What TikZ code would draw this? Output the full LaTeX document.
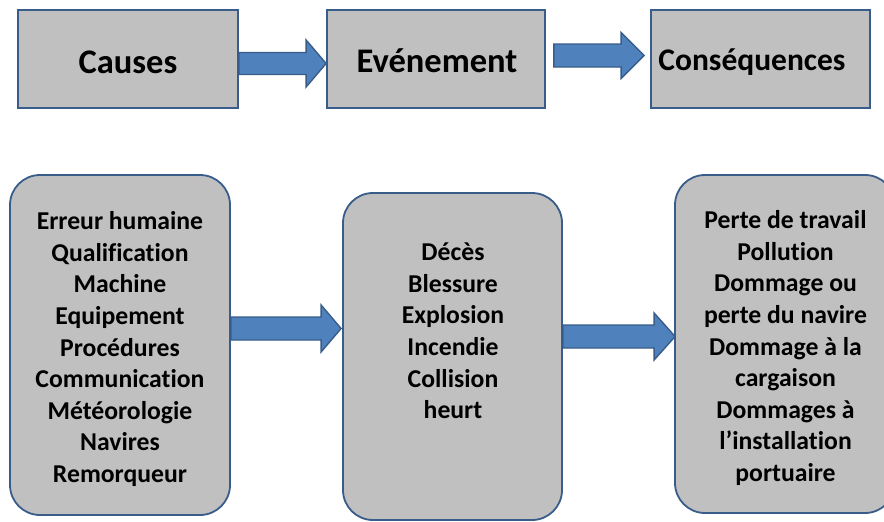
\documentclass[tikz,border=0pt]{standalone}
\usepackage{fontspec}
\setmainfont{Carlito}[Ligatures={NoCommon}]
\usetikzlibrary{calc}
\definecolor{boxgray}{RGB}{192,192,192}
\definecolor{boxline}{RGB}{56,93,138}
\definecolor{arrfill}{RGB}{79,129,189}
\tikzset{
  topbox/.style={draw=boxline, line width=1.8pt, fill=boxgray, rectangle, inner sep=0pt,
     minimum height=98pt},
  toptext/.style={inner sep=0pt, anchor=base, font=\bfseries\fontsize{34.5}{40}\selectfont},
  listbox/.style={draw=boxline, line width=1.8pt, fill=boxgray, rectangle, rounded corners=30pt,
     inner sep=0pt},
  listtext/.style={align=center, inner sep=0pt, font=\bfseries\fontsize{25.7}{31.6}\selectfont},
  blockarr/.style={draw=boxline, line width=1.4pt, fill=arrfill, line join=miter},
}
% #1 start anchor, #2 start shift, #3 end anchor, #4 end shift, #5 y centre (px), #6 shaft half, #7 head half, #8 head length
\newcommand\blkarrow[8]{%
  \draw[blockarr] let \p1=(#1), \p2=(#3) in
    ({\x1+#2pt},{-(#5-#6)*1pt}) -- ({\x2+#4pt-#8pt},{-(#5-#6)*1pt}) --
    ({\x2+#4pt-#8pt},{-(#5-#7)*1pt}) -- ({\x2+#4pt},{-#5pt}) --
    ({\x2+#4pt-#8pt},{-(#5+#7)*1pt}) -- ({\x2+#4pt-#8pt},{-(#5+#6)*1pt}) --
    ({\x1+#2pt},{-(#5+#6)*1pt}) -- cycle;}
\begin{document}
\begin{tikzpicture}[x=1pt,y=-1pt]
\useasboundingbox (0,0) rectangle (884,522);
\clip (0,0) rectangle (884,522);
\fill[white] (0,0) rectangle (884,522);
% top row
\node[topbox, minimum width=220pt] (causes) at (128,59) {};
\node[toptext] (causestext) at (128,73) {Causes};
\node[topbox, minimum width=218pt] (even) at (436,59) {};
\node[toptext] (eventext) at (437,72.5) {Evénement};
\node[topbox, minimum width=219pt] (cons) at (760.5,59) {};
\node[toptext, font=\bfseries\fontsize{31.5}{37}\selectfont] (constext) at (752,70) {Conséquences};
% bottom row
\node[listbox, minimum width=220pt, minimum height=340pt] (lcauses) at (120,345) {};
\node[listtext] (lcausestext) at (120,349)
  {Erreur humaine\\Qualification\\Machine\\Equipement\\Procédures\\Communication\\Météorologie\\Navires\\Remorqueur};
\node[listbox, minimum width=219pt, minimum height=327pt] (leven) at (452.5,356.5) {};
\node[listtext] (leventext) at (453,331) {Décès\\Blessure\\Explosion\\Incendie\\Collision\\ heurt};
\node[listbox, minimum width=220pt, minimum height=338pt] (lcons) at (785,344) {};
\node[listtext] (lconstext) at (785.5,348)
  {Perte de travail\\Pollution\\Dommage ou\\perte du navire\\Dommage à la\\cargaison\\Dommages à\\l’installation\\portuaire};
% arrows
\blkarrow{causes.east}{0}{even.west}{0}{63.5}{11}{23.5}{20}
\blkarrow{even.east}{8}{cons.west}{-6}{55.5}{11.5}{23}{23}
\blkarrow{lcauses.east}{0}{leven.west}{-1}{328.5}{11.5}{23.5}{20}
\blkarrow{leven.east}{0}{lcons.west}{1}{336.5}{11.5}{23.5}{21}
\end{tikzpicture}
\end{document}
